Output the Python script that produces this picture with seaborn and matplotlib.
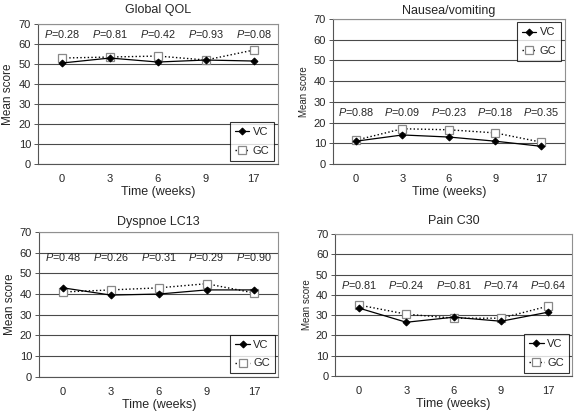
import matplotlib
matplotlib.use("Agg")
import matplotlib.pyplot as plt
import seaborn as sns
import pandas as pd
import numpy as np

# data
weeks = ["0", "3", "6", "9", "17"]
titles = ["Global QOL", "Nausea/vomiting", "Dyspnoe LC13", "Pain C30"]
vc_qol = [50.5, 53.0, 51.0, 52.0, 51.5]
gc_qol = [53.0, 53.5, 54.0, 52.0, 57.0]
vc_nausea = [11.0, 14.0, 13.0, 11.0, 8.5]
gc_nausea = [11.5, 17.0, 16.5, 15.0, 10.5]
vc_dysp = [43.0, 39.5, 40.0, 42.0, 42.0]
gc_dysp = [41.0, 42.0, 43.0, 45.0, 40.5]
vc_pain = [33.5, 26.5, 29.0, 27.0, 31.5]
gc_pain = [35.0, 30.5, 28.5, 28.5, 34.5]
p_qol = ["0.28", "0.81", "0.42", "0.93", "0.08"]
p_nausea = ["0.88", "0.09", "0.23", "0.18", "0.35"]
p_dysp = ["0.48", "0.26", "0.31", "0.29", "0.90"]
p_pain = ["0.81", "0.24", "0.81", "0.74", "0.64"]

sns.set_style("white")
plt.rcParams['font.family'] = ['Liberation Sans', 'DejaVu Sans']
plt.rcParams['mathtext.fontset'] = 'custom'
plt.rcParams['mathtext.it'] = 'Liberation Sans:italic'
plt.rcParams['mathtext.rm'] = 'Liberation Sans'

fig = plt.figure(figsize=(5.75, 4.15), dpi=100)
boxes = [[0.066, 0.605, 0.417, 0.337],
         [0.579, 0.605, 0.403, 0.349],
         [0.068, 0.092, 0.416, 0.349],
         [0.583, 0.094, 0.412, 0.342]]
series = [(vc_qol, gc_qol, p_qol, 65),
          (vc_nausea, gc_nausea, p_nausea, 25),
          (vc_dysp, gc_dysp, p_dysp, 58),
          (vc_pain, gc_pain, p_pain, 45)]
legend_loc = ["lower right", "upper right", "lower right", "lower right"]
ylab_size = [8.5, 7, 8.5, 7]
title_pad = [8, 4, 5, 7]

for i in range(4):
    ax = fig.add_axes(boxes[i])
    vc, gc, pv, py = series[i]
    df = pd.DataFrame({'week': weeks, 'VC': vc, 'GC': gc})
    sns.lineplot(data=df, x='week', y='GC', ax=ax, color='black', linestyle=':',
                 linewidth=1.0, marker='s', markersize=5.5, markerfacecolor='white',
                 markeredgecolor='#888888', markeredgewidth=0.9, label='GC', zorder=3)
    sns.lineplot(data=df, x='week', y='VC', ax=ax, color='black', linestyle='-',
                 linewidth=0.9, marker='D', markersize=3.5, markerfacecolor='black',
                 markeredgecolor='black', label='VC', zorder=4)
    ax.set_xlim(-0.5, 4.5)
    ax.set_ylim(0, 70)
    ax.set_yticks(np.arange(0, 71, 10))
    ax.yaxis.grid(True, color='#4a4a4a', linewidth=0.8)
    ax.set_axisbelow(True)
    for s in ax.spines.values():
        s.set_color('#909090')
        s.set_linewidth(0.8)
    ax.spines['left'].set_color('#555555')
    ax.spines['bottom'].set_color('#555555')
    ax.set_xticks(range(5))
    ax.set_xticklabels(weeks)
    ax.set_xticks(np.arange(-0.5, 4.6, 1), minor=True)
    ax.tick_params(axis='x', which='major', length=0, labelsize=8, pad=7)
    ax.tick_params(axis='x', which='minor', length=3, direction='out', color='#555555', width=0.7)
    ax.tick_params(axis='y', length=3, direction='out', color='#555555', width=0.7,
                   labelsize=8, pad=2, left=True)
    ax.set_xlabel('Time (weeks)', fontsize=9, labelpad=2)
    ax.set_ylabel('Mean score', fontsize=ylab_size[i], labelpad=3)
    ax.set_title(titles[i], fontsize=9, pad=title_pad[i])
    for j in range(5):
        ax.text(j, py, r'$P$=' + pv[j], ha='center', va='center', fontsize=7.8)
    h, l = ax.get_legend_handles_labels()
    order = [l.index('VC'), l.index('GC')]
    leg = ax.legend([h[k] for k in order], [l[k] for k in order], loc=legend_loc[i],
                    fontsize=8, frameon=True, fancybox=False, handlelength=1.3,
                    handletextpad=0.3, borderpad=0.45, labelspacing=0.8,
                    borderaxespad=0.3)
    leg.get_frame().set_edgecolor('black')
    leg.get_frame().set_linewidth(0.8)

fig.savefig('out.png', dpi=100)
